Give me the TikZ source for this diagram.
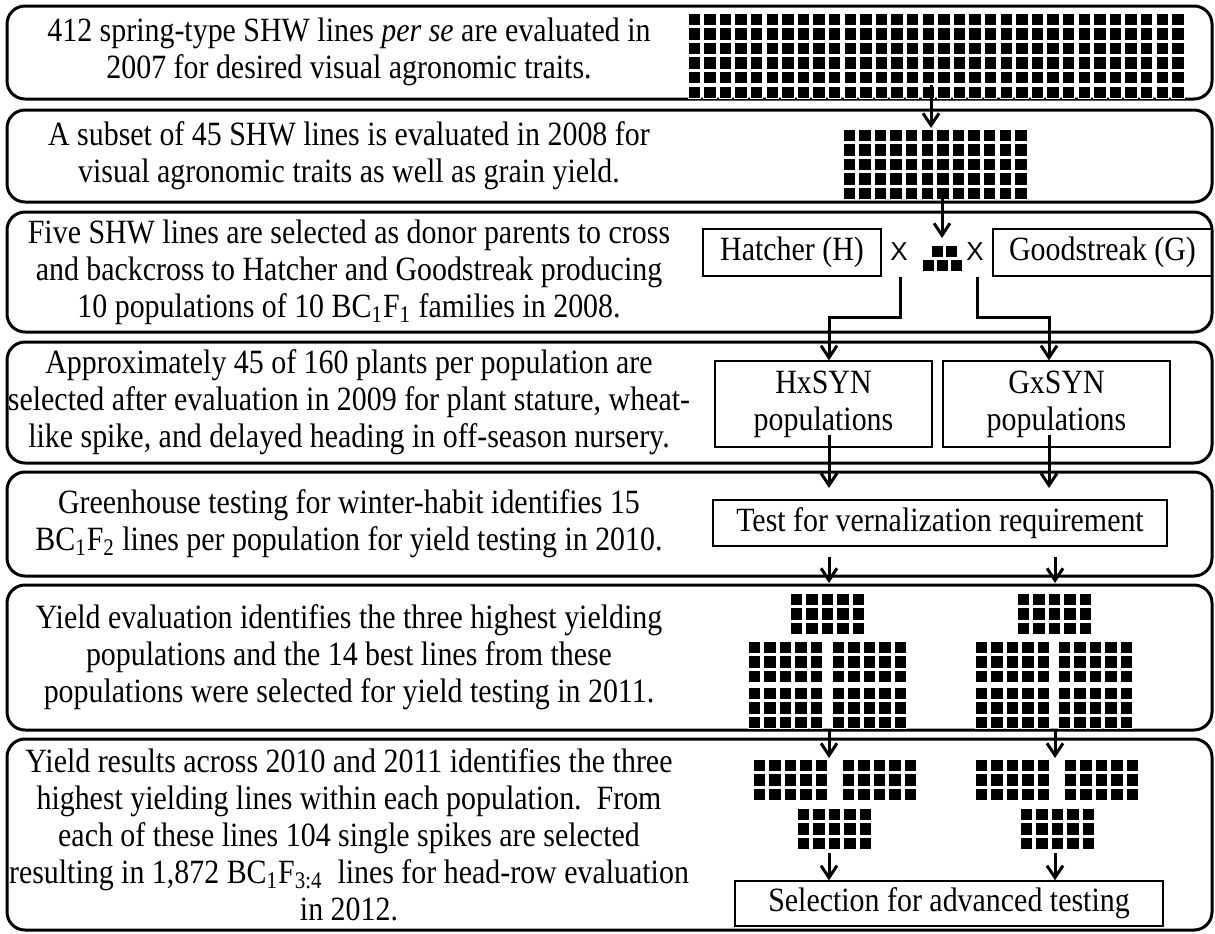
\documentclass[tikz,border=0pt]{standalone}
\usepackage{fontspec}
\setmainfont[FakeStretch=0.88]{Liberation Serif}
\newfontfamily\crossfont{Liberation Sans}
\usetikzlibrary{arrows.meta}

% block of lines drawn as small squares: x, y, columns, rows
\newcommand{\sqgrid}[4]{%
  \foreach \i in {1,...,#3}{\foreach \j in {1,...,#4}{
    \path[sq] ({#1+(\i-1)*15.6},{#2+(\j-1)*14.6}) rectangle ++(12.5,12.5);}}}

\begin{document}
\begin{tikzpicture}[x=0.5pt, y=-0.5pt,
  row/.style={draw, line width=1.5pt, rounded corners=9pt},
  txt/.style={align=center, inner sep=0pt, font=\fontsize{17}{18.5}\selectfont},
  tbox/.style={draw, line width=0.7pt, inner sep=0pt, align=center, font=\fontsize{17}{18.5}\selectfont},
  cross/.style={inner sep=0pt, font=\crossfont\fontsize{13}{14}\selectfont},
  sq/.style={fill=black, draw=white, line width=0.5pt},
  arr/.style={line width=1.5pt, -{Straight Barb[length=6pt,width=8pt]}}
]
\useasboundingbox (0,0) rectangle (1215,933);

% stage rows
\draw[row] (7,6) rectangle (1212,99);
\draw[row] (7,110) rectangle (1212,202);
\draw[row] (7,212) rectangle (1212,332);
\draw[row] (7,342) rectangle (1212,463);
\draw[row] (7,472) rectangle (1212,576);
\draw[row] (7,585) rectangle (1212,730);
\draw[row] (7,739) rectangle (1212,930);

% descriptions
\node[txt] (t1) at (349,52) {412 spring-type SHW lines \textit{per se} are evaluated in\\2007 for desired visual agronomic traits.};
\node[txt] (t2) at (349,156) {A subset of 45 SHW lines is evaluated in 2008 for\\visual agronomic traits as well as grain yield.};
\node[txt] (t3) at (349,272) {Five SHW lines are selected as donor parents to cross\\and backcross to Hatcher and Goodstreak producing\\10 populations of 10 BC\textsubscript{1}F\textsubscript{1} families in 2008.};
\node[txt] (t4) at (349,402) {Approximately 45 of 160 plants per population are\\selected after evaluation in 2009 for plant stature, wheat-\\like spike, and delayed heading in off-season nursery.};
\node[txt] (t5) at (349,524) {Greenhouse testing for winter-habit identifies 15\\BC\textsubscript{1}F\textsubscript{2} lines per population for yield testing in 2010.};
\node[txt] (t6) at (349,657) {Yield evaluation identifies the three highest yielding\\populations and the 14 best lines from these\\populations were selected for yield testing in 2011.};
\node[txt] (t7) at (349,835) {Yield results across 2010 and 2011 identifies the three\\highest yielding lines within each population.\ \ From\\each of these lines 104 single spikes are selected\\resulting in 1,872 BC\textsubscript{1}F\textsubscript{3:4}\ \ lines for head-row evaluation\\in 2012.};

% line blocks
\sqgrid{688}{13}{32}{6}
\sqgrid{843}{129}{12}{5}
\foreach \px/\py in {931/245, 945/245, 922/259, 936/259, 950/259}
  \path[sq] (\px,\py) rectangle ++(12.5,12.5);
\sqgrid{790}{593}{5}{3}
\sqgrid{748}{641}{5}{3}
\sqgrid{832}{641}{5}{3}
\sqgrid{748}{687}{5}{3}
\sqgrid{832}{687}{5}{3}
\sqgrid{1017}{593}{5}{3}
\sqgrid{975}{641}{5}{3}
\sqgrid{1058}{641}{5}{3}
\sqgrid{975}{687}{5}{3}
\sqgrid{1058}{687}{5}{3}
\sqgrid{753}{759}{5}{3}
\sqgrid{842}{759}{5}{3}
\sqgrid{797}{808}{5}{3}
\sqgrid{975}{759}{5}{3}
\sqgrid{1064}{759}{5}{3}
\sqgrid{1020}{808}{5}{3}

% parents and populations
\node[tbox, minimum width=89pt, minimum height=23.5pt] (hat) at (792,252.5) {Hatcher (H)};
\node[tbox, minimum width=109.5pt, minimum height=23.5pt] (goo) at (1102.5,252.5) {Goodstreak (G)};
\node[cross] (x1) at (899,252) {X};
\node[cross] (x2) at (975,252) {X};
\node[tbox, minimum width=108.5pt, minimum height=43pt] (hxs) at (823.5,404) {HxSYN\\populations};
\node[tbox, minimum width=113.5pt, minimum height=43pt] (gxs) at (1056.5,404) {GxSYN\\populations};
\node[tbox, minimum width=227pt, minimum height=23pt] (vrn) at (940,523) {Test for vernalization requirement};
\node[tbox, minimum width=214pt, minimum height=22.5pt] (sel) at (949,903.5) {Selection for advanced testing};

% connector ends
\coordinate (g1) at (931,85);
\coordinate (g2) at (931,128);
\coordinate (g2b) at (942,199);
\coordinate (pyr) at (942,238);
\coordinate (x1b) at (900,277);
\coordinate (x2b) at (977,277);
\coordinate (e1) at (829,317);
\coordinate (e2) at (1049,317);
\coordinate (hb) at (829,435);
\coordinate (gb) at (1049,435);
\coordinate (v1) at (829,488);
\coordinate (v2) at (1055,488);
\coordinate (v1b) at (829,557);
\coordinate (v2b) at (1055,557);
\coordinate (c1) at (829,583);
\coordinate (c2) at (1055,583);
\coordinate (c1b) at (829,731);
\coordinate (c2b) at (1055,731);
\coordinate (d1) at (829,758);
\coordinate (d2) at (1055,758);
\coordinate (d1b) at (829,853);
\coordinate (d2b) at (1055,853);

% connectors
\draw[arr] (g1) -- (g2);
\draw[arr] (g2b) -- (pyr);
\draw[arr] (x1b) |- (e1) -- (e1 |- hxs.north);
\draw[arr] (x2b) |- (e2) -- (e2 |- gxs.north);
\draw[arr] (hb) -- (v1);
\draw[arr] (gb) -- (gb |- v2);
\draw[arr] (v1b) -- (c1);
\draw[arr] (v2b) -- (c2);
\draw[arr] (c1b) -- (d1);
\draw[arr] (c2b) -- (d2);
\draw[arr] (d1b) -- (d1b |- sel.north);
\draw[arr] (d2b) -- (d2b |- sel.north);
\end{tikzpicture}
\end{document}
